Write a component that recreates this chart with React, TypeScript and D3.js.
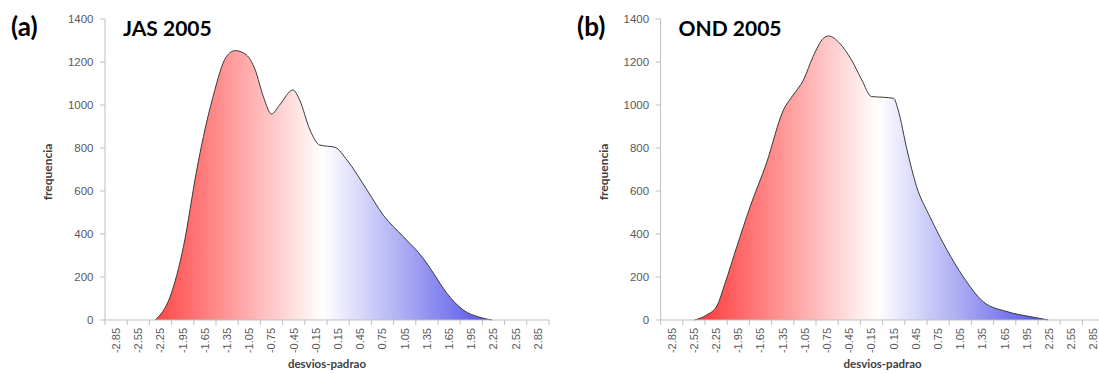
import React from "react";
import * as d3 from "d3";

const categories = ["-2.85","-2.55","-2.25","-1.95","-1.65","-1.35","-1.05","-0.75","-0.45","-0.15","0.15","0.45","0.75","1.05","1.35","1.65","1.95","2.25","2.55","2.85"];
const yTicks = [0, 200, 400, 600, 800, 1000, 1200, 1400];

const jasX = [-2.32,-2.12,-1.94,-1.76,-1.67,-1.54,-1.36,-1.24,-1.09,-0.97,-0.86,-0.75,-0.64,-0.46,-0.37,-0.23,-0.10,0.11,0.27,0.54,0.76,1.03,1.30,1.44,1.62,1.84,2.07,2.23];
const jasY = [0,108,341,698,853,1039,1225,1253,1233,1163,1039,958,1000,1070,1023,884,814,803,744,605,488,388,287,217,124,47,12,0];

const ondX = [-2.54,-2.38,-2.24,-2.13,-1.97,-1.79,-1.57,-1.34,-1.21,-1.07,-0.94,-0.80,-0.73,-0.58,-0.42,-0.28,-0.15,0.01,0.15,0.21,0.33,0.46,0.64,0.87,1.09,1.36,1.68,1.99,2.24];
const ondY = [0,23,65,170,341,527,729,977,1046,1116,1225,1310,1321,1287,1209,1116,1039,1036,1031,977,791,620,480,326,201,85,39,16,0];

type PanelProps = { left: number; id: string; letter: string; title: string; xs: number[]; ys: number[]; letterX: number };

const Panel = ({ left, id, letter, title, xs, ys, letterX }: PanelProps) => {
  const width = 444;
  const top = 19, bottom = 320;
  const band = d3.scaleBand<string>().domain(categories).range([left, left + width]).padding(0);
  const x = d3.scaleLinear().domain([-3, 3]).range([left, left + width]);
  const y = d3.scaleLinear().domain([0, 1400]).range([bottom, top]);
  const pts: [number, number][] = xs.map((v, i) => [v, ys[i]]);
  const area = d3.area<[number, number]>().x(d => x(d[0])).y0(y(0)).y1(d => y(d[1])).curve(d3.curveMonotoneX);
  const line = d3.line<[number, number]>().x(d => x(d[0])).y(d => y(d[1])).curve(d3.curveMonotoneX);
  const bw = band.bandwidth();
  const font = "'Liberation Sans', Arial, sans-serif";
  const bold = "Lato, 'Open Sans', sans-serif";
  return (
    <g>
      <defs>
        <linearGradient id={id} gradientUnits="userSpaceOnUse" x1={left} x2={left + width} y1={0} y2={0}>
          <stop offset="0" stopColor="#ff1010" />
          <stop offset="0.49" stopColor="#ffffff" />
          <stop offset="1" stopColor="#1515e0" />
        </linearGradient>
      </defs>
      <path d={area(pts) || ""} fill={`url(#${id})`} />
      <path d={line(pts) || ""} fill="none" stroke="#3a3a3a" strokeWidth={1} />
      <line x1={left} x2={left} y1={top} y2={bottom} stroke="#bfbfbf" />
      <line x1={left} x2={left + width} y1={bottom} y2={bottom} stroke="#bfbfbf" />
      {yTicks.map(t => (
        <g key={t}>
          <line x1={left - 5} x2={left} y1={y(t)} y2={y(t)} stroke="#bfbfbf" />
          <text x={left - 11.5} y={y(t)} dy="0.35em" textAnchor="end" fontFamily={font} fontSize={11.5} fill="#595959">{t}</text>
        </g>
      ))}
      {categories.map((c, i) => (
        <line key={"t" + c} x1={left + i * bw + bw} x2={left + i * bw + bw} y1={bottom} y2={bottom + 5} stroke="#bfbfbf" />
      ))}
      <line x1={left} x2={left} y1={bottom} y2={bottom + 5} stroke="#bfbfbf" />
      {categories.map(c => {
        const cx = (band(c) || 0) + bw / 2;
        return (
          <text key={c} transform={`translate(${cx},${bottom + 8}) rotate(-90)`} dy="0.35em" textAnchor="end" fontFamily={font} fontSize={11} fill="#595959">{c}</text>
        );
      })}
      <text transform={`translate(${left - 53},172) rotate(-90)`} textAnchor="middle" fontFamily={bold} fontWeight="bold" fontSize={12} fill="#404040">frequencia</text>
      <text x={left + width / 2} y={368} textAnchor="middle" fontFamily={bold} fontWeight="bold" fontSize={11.5} fill="#404040">desvios-padrao</text>
      <text x={left + 18} y={36} fontFamily={bold} fontWeight="bold" fontSize={21} fill="#000">{title}</text>
      <text x={letterX} y={36} fontFamily={bold} fontWeight="bold" fontSize={26} fill="#000">{letter}</text>
    </g>
  );
};

export default function App() {
  return (
    <svg width={1099} height={374} style={{ position: "absolute", left: 0, top: 0, background: "#fff" }}>
      <rect width={1099} height={374} fill="#fff" />
      <Panel left={105} id="gA" letter="(a)" title="JAS 2005" xs={jasX} ys={jasY} letterX={11} />
      <Panel left={660.6} id="gB" letter="(b)" title="OND 2005" xs={ondX} ys={ondY} letterX={577} />
    </svg>
  );
}
